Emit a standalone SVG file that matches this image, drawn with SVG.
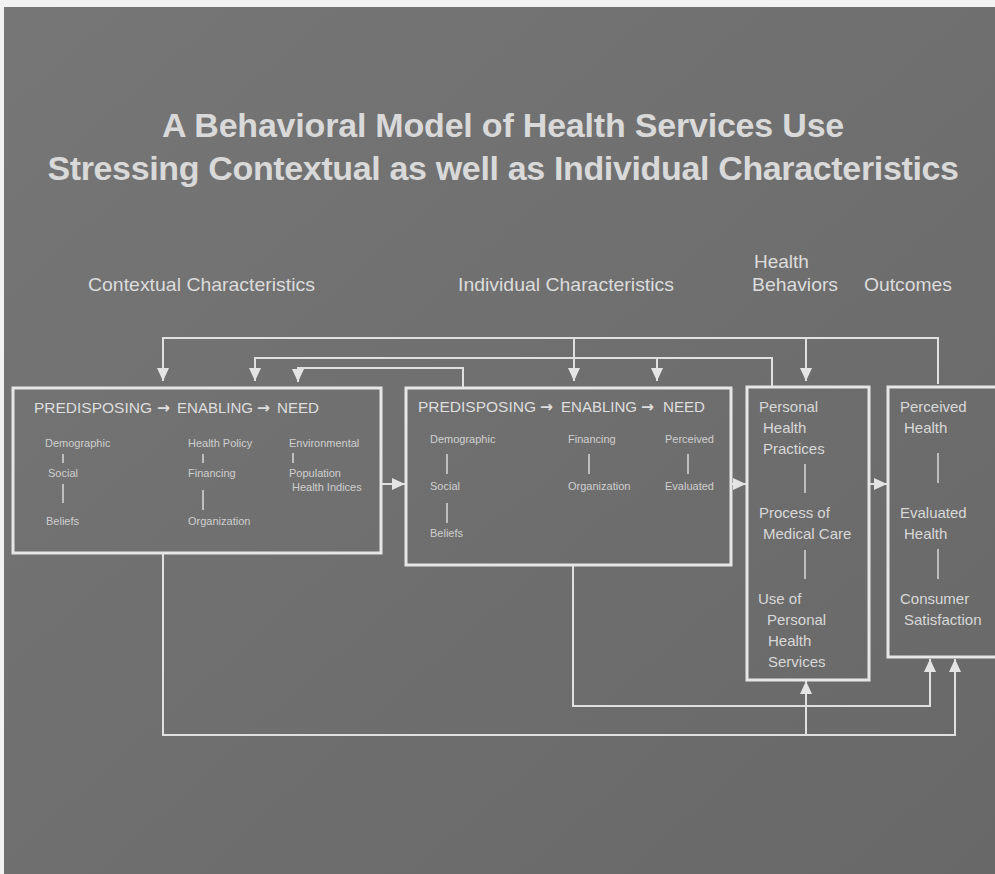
<svg xmlns="http://www.w3.org/2000/svg" width="995" height="874" viewBox="0 0 995 874">
<defs>
<linearGradient id="bg" x1="0" y1="0" x2="1" y2="1">
<stop offset="0" stop-color="#767676"/>
<stop offset="1" stop-color="#686868"/>
</linearGradient>
<marker id="ah" markerUnits="userSpaceOnUse" markerWidth="14" markerHeight="14" viewBox="0 0 14 12" refX="13" refY="6" orient="auto">
<path d="M0,0 L13,6 L0,12 Z" fill="#e4e4e4"/>
</marker>
</defs>
<style>
.box{fill:none;stroke:#e6e6e6;stroke-width:3}
.con{fill:none;stroke:#e0e0e0;stroke-width:2}
.t{font-family:"Liberation Sans",Arial,sans-serif;fill:#d6d6d6}
.title{font-size:34px;font-weight:bold;fill:#d9d9d9;text-anchor:middle}
.hd{font-size:19px;fill:#dcdcdc}
.big{font-size:15.5px;fill:#dedede}
.ar{font-family:"DejaVu Sans",sans-serif;font-weight:bold}
.sm{font-size:11px;fill:#cfcfcf}
.md{font-size:15px;fill:#d8d8d8}
.tick{stroke:#d8d8d8;stroke-width:1.5}
</style>
<rect x="0" y="0" width="995" height="874" fill="#f2f2f2"/>
<rect x="4" y="7" width="991" height="867" fill="url(#bg)"/>

<g id="title">
<text class="t title" x="503" y="137" letter-spacing="-0.2">A Behavioral Model of Health Services Use</text>
<text class="t title" x="503" y="180" letter-spacing="-0.35">Stressing Contextual as well as Individual Characteristics</text>
</g>

<g id="headers">
<text class="t hd" x="88" y="291" textLength="227" lengthAdjust="spacingAndGlyphs">Contextual Characteristics</text>
<text class="t hd" x="458" y="291" textLength="216" lengthAdjust="spacingAndGlyphs">Individual Characteristics</text>
<text class="t hd" x="754" y="268">Health</text>
<text class="t hd" x="752" y="291" textLength="86" lengthAdjust="spacingAndGlyphs">Behaviors</text>
<text class="t hd" x="864" y="291" textLength="88" lengthAdjust="spacingAndGlyphs">Outcomes</text>
</g>

<g id="connectors">
<path class="con" d="M938,384 V338 H163 V381" marker-end="url(#ah)"/>
<path class="con" d="M574,338 V381" marker-end="url(#ah)"/>
<path class="con" d="M806,338 V381" marker-end="url(#ah)"/>
<path class="con" d="M772,387 V358 H255 V381" marker-end="url(#ah)"/>
<path class="con" d="M657,358 V381" marker-end="url(#ah)"/>
<path class="con" d="M463,387 V368 H298 V382" marker-end="url(#ah)"/>
<path class="con" d="M382,484 H405" marker-end="url(#ah)"/>
<path class="con" d="M732,484 H746" marker-end="url(#ah)"/>
<path class="con" d="M870,484 H887" marker-end="url(#ah)"/>
<path class="con" d="M163,554 V735 H955 V659" marker-end="url(#ah)"/>
<path class="con" d="M806,735 V681" marker-end="url(#ah)"/>
<path class="con" d="M573,566 V706 H930 V659" marker-end="url(#ah)"/>
</g>

<g id="contextual">
<rect class="box" x="13" y="388" width="368" height="165"/>
<text class="t big" y="413"><tspan x="34" textLength="118" lengthAdjust="spacingAndGlyphs">PREDISPOSING</tspan><tspan class="ar" x="157">→</tspan><tspan x="177" textLength="76" lengthAdjust="spacingAndGlyphs">ENABLING</tspan><tspan class="ar" x="257">→</tspan><tspan x="277" textLength="42" lengthAdjust="spacingAndGlyphs">NEED</tspan></text>
<text class="t sm" x="45" y="447">Demographic</text>
<line class="tick" x1="63" y1="454" x2="63" y2="463"/>
<text class="t sm" x="48" y="477">Social</text>
<line class="tick" x1="63" y1="484" x2="63" y2="503"/>
<text class="t sm" x="46" y="525">Beliefs</text>
<text class="t sm" x="188" y="447">Health Policy</text>
<line class="tick" x1="203" y1="454" x2="203" y2="463"/>
<text class="t sm" x="188" y="477">Financing</text>
<line class="tick" x1="203" y1="490" x2="203" y2="510"/>
<text class="t sm" x="188" y="525">Organization</text>
<text class="t sm" x="289" y="447">Environmental</text>
<line class="tick" x1="293" y1="453" x2="293" y2="463"/>
<text class="t sm" x="289" y="477">Population</text>
<text class="t sm" x="292" y="491">Health Indices</text>
</g>

<g id="individual">
<rect class="box" x="406" y="388" width="325" height="177"/>
<text class="t big" y="412"><tspan x="418" textLength="118" lengthAdjust="spacingAndGlyphs">PREDISPOSING</tspan><tspan class="ar" x="540">→</tspan><tspan x="561" textLength="76" lengthAdjust="spacingAndGlyphs">ENABLING</tspan><tspan class="ar" x="641">→</tspan><tspan x="663" textLength="42" lengthAdjust="spacingAndGlyphs">NEED</tspan></text>
<text class="t sm" x="430" y="443">Demographic</text>
<line class="tick" x1="447" y1="454" x2="447" y2="474"/>
<text class="t sm" x="430" y="490">Social</text>
<line class="tick" x1="447" y1="503" x2="447" y2="523"/>
<text class="t sm" x="430" y="537">Beliefs</text>
<text class="t sm" x="568" y="443">Financing</text>
<line class="tick" x1="589" y1="454" x2="589" y2="474"/>
<text class="t sm" x="568" y="490">Organization</text>
<text class="t sm" x="665" y="443">Perceived</text>
<line class="tick" x1="688" y1="454" x2="688" y2="474"/>
<text class="t sm" x="665" y="490">Evaluated</text>
</g>

<g id="behaviors">
<rect class="box" x="747" y="387" width="122" height="293"/>
<text class="t md" x="759" y="412">Personal</text>
<text class="t md" x="763" y="433">Health</text>
<text class="t md" x="763" y="454">Practices</text>
<line class="tick" x1="805" y1="464" x2="805" y2="493"/>
<text class="t md" x="759" y="518">Process of</text>
<text class="t md" x="763" y="539">Medical Care</text>
<line class="tick" x1="805" y1="550" x2="805" y2="579"/>
<text class="t md" x="758" y="604">Use of</text>
<text class="t md" x="767" y="625">Personal</text>
<text class="t md" x="768" y="646">Health</text>
<text class="t md" x="768" y="667">Services</text>
</g>

<g id="outcomes">
<rect class="box" x="888" y="387" width="120" height="270"/>
<text class="t md" x="900" y="412">Perceived</text>
<text class="t md" x="904" y="433">Health</text>
<line class="tick" x1="938" y1="453" x2="938" y2="483"/>
<text class="t md" x="900" y="518">Evaluated</text>
<text class="t md" x="904" y="539">Health</text>
<line class="tick" x1="938" y1="549" x2="938" y2="579"/>
<text class="t md" x="900" y="604">Consumer</text>
<text class="t md" x="904" y="625">Satisfaction</text>
</g>
</svg>
